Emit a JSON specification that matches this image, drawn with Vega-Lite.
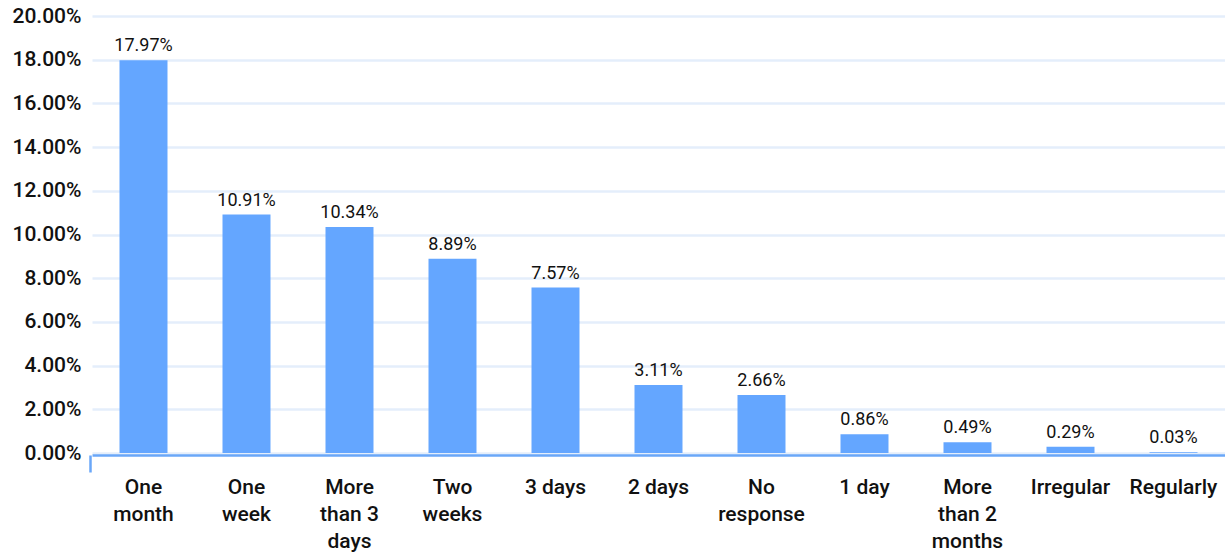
{
  "$schema": "https://vega.github.io/schema/vega-lite/v6.json",
  "width": 1133,
  "height": 437,
  "autosize": {"type": "none"},
  "padding": {"left": 92, "top": 16, "right": 0, "bottom": 100},
  "background": "white",
  "config": {
    "view": {"stroke": null},
    "font": "Roboto"
  },
  "data": {
    "values": [
      {"category": "One month", "share": 0.1797},
      {"category": "One week", "share": 0.1091},
      {"category": "More than 3 days", "share": 0.1034},
      {"category": "Two weeks", "share": 0.0889},
      {"category": "3 days", "share": 0.0757},
      {"category": "2 days", "share": 0.0311},
      {"category": "No response", "share": 0.0266},
      {"category": "1 day", "share": 0.0086},
      {"category": "More than 2 months", "share": 0.0049},
      {"category": "Irregular", "share": 0.0029},
      {"category": "Regularly", "share": 0.0003}
    ]
  },
  "encoding": {
    "x": {
      "field": "category",
      "type": "nominal",
      "sort": null,
      "scale": {"paddingInner": 0.534, "paddingOuter": 0.267},
      "axis": {
        "title": null,
        "labelAngle": 0,
        "labelFont": "Roboto",
        "labelFontSize": 21,
        "labelFontWeight": 500,
        "labelColor": "#111111",
        "labelLineHeight": 27,
        "labelPadding": 4,
        "labelBaseline": "top",
        "labelLimit": 200,
        "domainColor": "#6aa7f8",
        "domainWidth": 2.5,
        "offset": 2,
        "bandPosition": -0.61,
        "tickSize": 17,
        "tickWidth": 2.5,
        "tickColor": {"condition": {"test": "datum.index == 0", "value": "#6aa7f8"}, "value": "transparent"},
        "labelExpr": "datum.value == 'One month' ? ['One', 'month'] : datum.value == 'One week' ? ['One', 'week'] : datum.value == 'More than 3 days' ? ['More', 'than 3', 'days'] : datum.value == 'Two weeks' ? ['Two', 'weeks'] : datum.value == 'No response' ? ['No', 'response'] : datum.value == 'More than 2 months' ? ['More', 'than 2', 'months'] : datum.value"
      }
    },
    "y": {
      "field": "share",
      "type": "quantitative",
      "scale": {"domain": [0, 0.2], "nice": false},
      "axis": {
        "title": null,
        "values": [0, 0.02, 0.04, 0.06, 0.08, 0.1, 0.12, 0.14, 0.16, 0.18, 0.2],
        "format": ".2%",
        "labelFont": "Roboto",
        "labelFontSize": 21,
        "labelFontWeight": 500,
        "labelColor": "#111111",
        "labelPadding": 11,
        "domain": false,
        "ticks": false,
        "grid": true,
        "gridColor": "#e4eefb",
        "gridWidth": 2.5
      }
    }
  },
  "layer": [
    {
      "mark": {"type": "bar", "color": "#64a6ff"}
    },
    {
      "mark": {"type": "text", "baseline": "bottom", "dy": -5, "fontSize": 18, "font": "Roboto", "color": "#111111"},
      "encoding": {
        "text": {"field": "share", "type": "quantitative", "format": ".2%"}
      }
    }
  ]
}
